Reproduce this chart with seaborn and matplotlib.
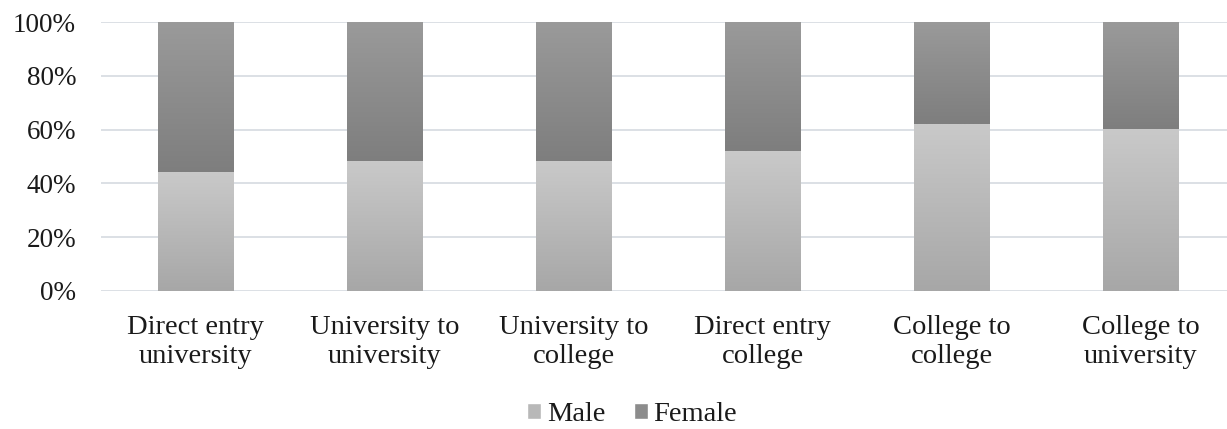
import numpy as np
import pandas as pd
import matplotlib
matplotlib.use("Agg")
import matplotlib.pyplot as plt
from matplotlib.patches import Patch
from matplotlib.ticker import FuncFormatter
import seaborn as sns

categories = ["Direct entry\nuniversity", "University to\nuniversity", "University to\ncollege",
              "Direct entry\ncollege", "College to\ncollege", "College to\nuniversity"]
male = [44, 48, 48, 52, 62, 60]
female = [56, 52, 52, 48, 38, 40]
y_ticks = [0, 20, 40, 60, 80, 100]

sns.set_theme(style="white")
plt.rcParams["font.family"] = ["Liberation Serif", "DejaVu Serif"]

df = pd.DataFrame({"category": categories, "male": male, "female": female})
df["total"] = df["male"] + df["female"]

fig = plt.figure(figsize=(12.27, 4.29), dpi=100)
ax = fig.add_axes([101 / 1227, 1 - 291 / 429, 1134.5 / 1227, (291 - 22) / 429])

# stacked bars: full-height female layer, male layer drawn over it
sns.barplot(data=df, x="category", y="total", color="#8c8c8c", width=0.4,
            ax=ax, zorder=2, linewidth=0, saturation=1)
n_female = len(ax.patches)
sns.barplot(data=df, x="category", y="male", color="#b8b8b8", width=0.4,
            ax=ax, zorder=3, linewidth=0, saturation=1)

# vertical gradient fill for each bar segment
def gradient(top, bottom, n=64):
    t = np.linspace(0, 1, n)[:, None]
    top = np.array(matplotlib.colors.to_rgb(top))
    bottom = np.array(matplotlib.colors.to_rgb(bottom))
    return (top * (1 - t) + bottom * t)[:, None, :]

for i, p in enumerate(list(ax.patches)):
    x0, y0 = p.get_x(), p.get_y()
    w, h = p.get_width(), p.get_height()
    if i < n_female:
        # female part sits on top of the male part
        y0 = male[i]
        h = 100 - male[i]
        img = gradient("#9a9a9a", "#7e7e7e")
        z = 2.5
    else:
        img = gradient("#c9c9c9", "#a7a7a7")
        z = 3.5
    ax.imshow(img, extent=(x0, x0 + w, y0, y0 + h), origin="upper",
              aspect="auto", zorder=z, interpolation="bilinear")
    p.set_visible(False)

ax.set_xlim(-0.5, len(categories) - 0.5)
ax.set_ylim(0, 100)
ax.set_yticks(y_ticks)
ax.yaxis.set_major_formatter(FuncFormatter(lambda v, _: f"{int(v)}%"))
ax.grid(axis="y", color="#d9dde3", linewidth=1.3, zorder=0)
ax.set_axisbelow(True)
for s in ax.spines.values():
    s.set_visible(False)
ax.set_xlabel("")
ax.set_ylabel("")
ax.tick_params(axis="y", length=0, pad=18, labelsize=19.5, colors="#1a1a1a")
ax.tick_params(axis="x", length=0, pad=17, labelsize=20.5, colors="#1a1a1a")
for lbl in ax.get_xticklabels():
    lbl.set_linespacing(1.25)

handles = [Patch(facecolor="#b8b8b8", label="Male"),
           Patch(facecolor="#8c8c8c", label="Female")]
fig.legend(handles=handles, loc="center", bbox_to_anchor=(0.515, 0.033), ncol=2,
           frameon=False, fontsize=20.5, handlelength=0.5, handleheight=0.5,
           handletextpad=0.2, columnspacing=1.0, labelcolor="#1a1a1a")

fig.savefig("out.png", dpi=100)
